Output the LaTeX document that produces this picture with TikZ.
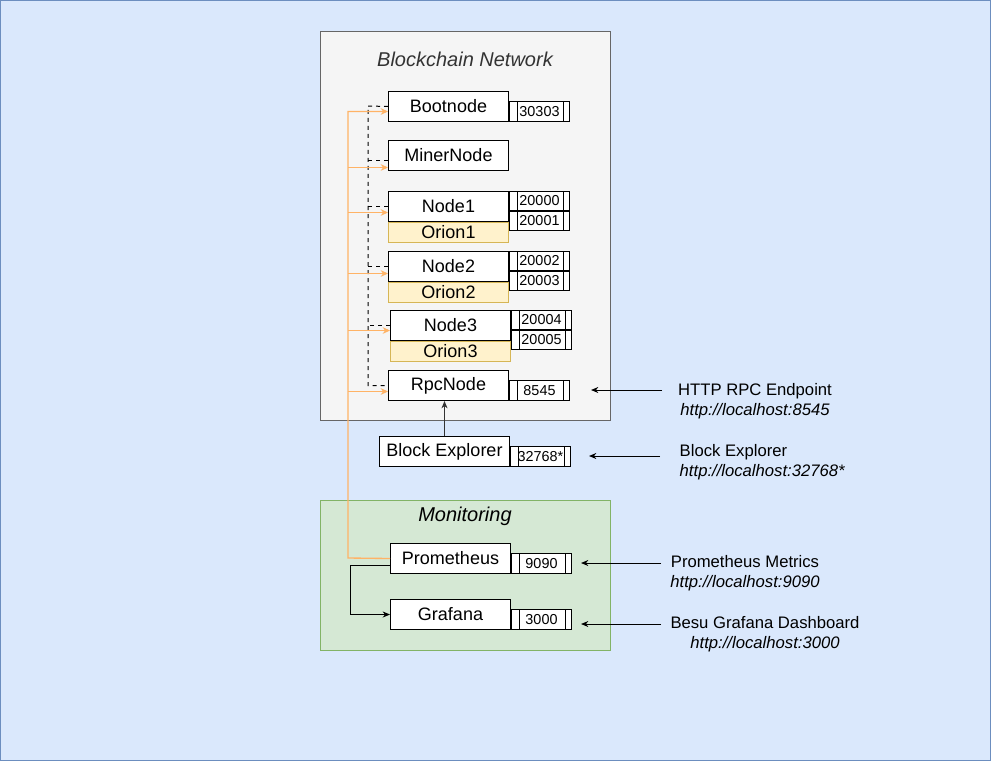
\documentclass[tikz,border=0pt]{standalone}
\usepackage{fontspec}
\setmainfont{Liberation Sans}
\usepackage{tikz}
\usetikzlibrary{arrows.meta,positioning}
\definecolor{bgfill}{HTML}{DAE8FC}
\definecolor{bgline}{HTML}{6C8EBF}
\definecolor{netfill}{HTML}{F5F5F5}
\definecolor{netline}{HTML}{666666}
\definecolor{title}{HTML}{333333}
\definecolor{monfill}{HTML}{D5E8D4}
\definecolor{monline}{HTML}{82B366}
\definecolor{orionfill}{HTML}{FFF2CC}
\definecolor{orionline}{HTML}{D6B656}
\definecolor{scrapeline}{HTML}{FFB366}
\tikzset{
  bg/.style={draw=bgline, fill=bgfill, line width=0.75pt},
  netbox/.style={draw=netline, fill=netfill, line width=0.75pt},
  monbox/.style={draw=monline, fill=monfill, line width=0.75pt},
  grouplab/.style={text=title, font=\fontsize{15}{17}\selectfont\itshape},
  box/.style={draw=black, fill=white, line width=0.75pt, minimum width=90pt, minimum height=22.5pt, inner sep=0pt, font=\fontsize{13.5}{15}\selectfont},
  orion/.style={box, draw=orionline, fill=orionfill, minimum height=15pt},
  port/.style={draw=black, fill=white, line width=0.75pt, minimum width=45pt, minimum height=15pt, inner sep=0pt, font=\fontsize{10.8}{12}\selectfont,
    path picture={
      \draw[line width=0.75pt] ([xshift=6pt]path picture bounding box.north west) -- ([xshift=6pt]path picture bounding box.south west);
      \draw[line width=0.75pt] ([xshift=-4.5pt]path picture bounding box.north east) -- ([xshift=-4.5pt]path picture bounding box.south east);
    }},
  halfport/.style={port, minimum height=14.25pt},
  peer/.style={draw=black, dashed, line width=0.75pt},
  scrape/.style={draw=scrapeline, line width=1pt, -{Stealth[length=5.5pt,width=5pt]}},
  link/.style={draw=black, line width=0.75pt, -{Stealth[length=5.5pt,width=4.5pt]}},
  extlab/.style={align=center, font=\fontsize{12.5}{15}\selectfont},
}
\begin{document}
\begin{tikzpicture}[x=0.75pt, y=-0.75pt]
  \useasboundingbox (0,0) rectangle (991,761);
  \draw[bg] (0.5,0.5) rectangle (990.5,760.5);
  \draw[netbox] (320,31) rectangle (610,420);
  \draw[monbox] (320,500) rectangle (610,650);
  \node[grouplab] (netlab) at (465,59) {Blockchain Network};
  \node[grouplab, text=black] (monlab) at (465,516) {Monitoring};

  \node[box, anchor=north west] (boot) at (388,91) {Bootnode};
  \node[port, anchor=south west] (bootp) at (boot.south east) {30303};

  \node[box, anchor=north west] (miner) at (388,140) {MinerNode};

  \node[box, anchor=north west] (node1) at (388,191) {Node1};
  \node[orion, anchor=north] (orion1) at (node1.south) {Orion1};
  \node[halfport, anchor=north west] (node1pa) at (node1.north east) {20000};
  \node[halfport, below=0pt of node1pa] (node1pb) {20001};

  \node[box, anchor=north west] (node2) at (388,251) {Node2};
  \node[orion, anchor=north] (orion2) at (node2.south) {Orion2};
  \node[halfport, anchor=north west] (node2pa) at (node2.north east) {20002};
  \node[halfport, below=0pt of node2pa] (node2pb) {20003};

  \node[box, anchor=north west] (node3) at (390,310) {Node3};
  \node[orion, anchor=north] (orion3) at (node3.south) {Orion3};
  \node[halfport, anchor=north west] (node3pa) at (node3.north east) {20004};
  \node[halfport, below=0pt of node3pa] (node3pb) {20005};

  \node[box, anchor=north west] (rpc) at (388,370) {RpcNode};
  \node[port, anchor=south west] (rpcp) at (rpc.south east) {8545};

  \node[box, anchor=north west, minimum width=97.5pt] (expl) at (379,436) {Block Explorer};
  \node[port, anchor=south west] (explp) at (expl.south east) {32768*};

  \node[box, anchor=north west] (prom) at (390,543) {Prometheus};
  \node[port, anchor=south west] (promp) at (prom.south east) {9090};

  \node[box, anchor=north west] (graf) at (390,599) {Grafana};
  \node[port, anchor=south west] (grafp) at (graf.south east) {3000};

  % peer links from the bootnode
  \coordinate (bus) at (368,106);
  \draw[peer] (boot.west) -- (bus) |- (rpc.west);
  \foreach \n/\s in {miner/-3.75pt, node1/0pt, node2/0pt, node3/0pt}
    \draw[peer] ([yshift=\s]\n.west) -- ([yshift=\s]\n.west -| bus);

  % metrics scraping
  \coordinate (tap) at (348,558);
  \draw[scrape] (prom.west) -- (tap) |- ([yshift=-3.75pt]boot.west);
  \foreach \n/\s in {miner/-9pt, node1/-4.5pt, node2/-5.25pt, node3/-3.75pt, rpc/-4.5pt}
    \draw[scrape] ([yshift=\s]\n.west -| tap) -- ([yshift=\s]\n.west);

  \draw[link] ([yshift=-5.25pt]prom.west) -- ++(-40,0) |- (graf.west);
  \draw[link, draw=title] (expl.north) -- (expl.north |- rpc.south);

  \node[extlab] (rpclab) at (755,401) {HTTP RPC Endpoint\\\textit{http://localhost:8545}};
  \node[extlab, align=left, anchor=west] (expllab) at (675,462) {Block Explorer\\\textit{http://localhost:32768*}};
  \node[extlab] (promlab) at (745,573) {Prometheus Metrics\\\textit{http://localhost:9090}};
  \node[extlab] (graflab) at (765,634) {Besu Grafana Dashboard\\\textit{http://localhost:3000}};

  \coordinate (rpcout) at (662,390);
  \coordinate (rpcin) at (591,390);
  \coordinate (explout) at (660,456);
  \coordinate (explin) at (589,456);
  \coordinate (promout) at (661,563);
  \coordinate (promin) at (581,563);
  \coordinate (grafout) at (661,624);
  \coordinate (grafin) at (581,624);
  \draw[link] (rpcout) -- (rpcin);
  \draw[link] (explout) -- (explin);
  \draw[link] (promout) -- (promin);
  \draw[link] (grafout) -- (grafin);
\end{tikzpicture}
\end{document}
